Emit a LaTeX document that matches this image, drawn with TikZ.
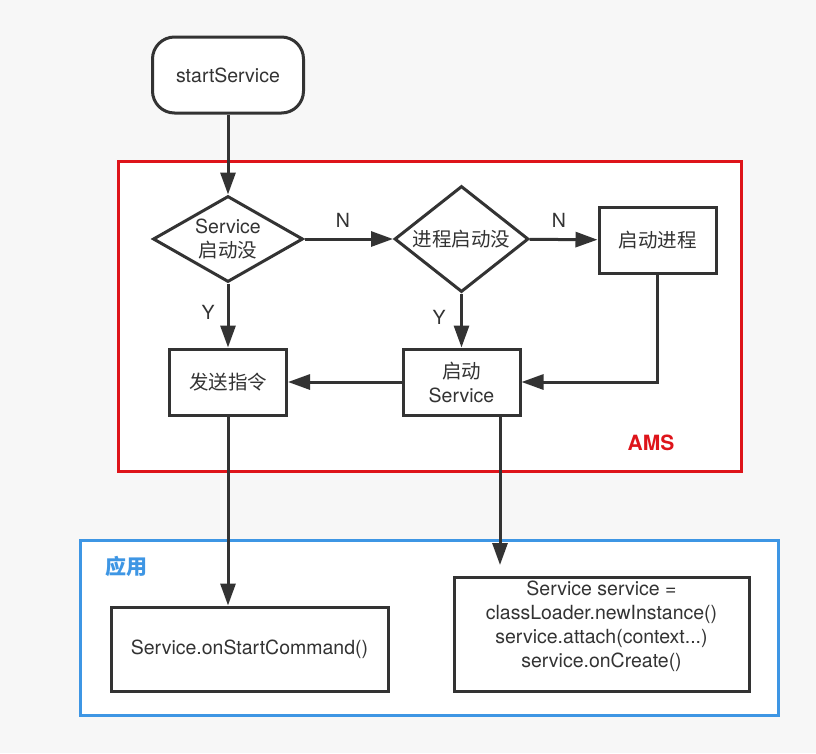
\documentclass[tikz,border=0pt]{standalone}
\usepackage{fontspec}
\setmainfont{TeX Gyre Heros}
\newfontfamily\cjk{Noto Sans CJK SC}
\usetikzlibrary{shapes.geometric, arrows.meta}
\definecolor{ink}{RGB}{51,51,51}
\definecolor{amsred}{RGB}{222,20,26}
\definecolor{appblue}{RGB}{62,150,228}
\definecolor{paper}{RGB}{247,247,247}

\begin{document}
\begin{tikzpicture}[x=1pt, y=-1pt, >={Triangle[length=22pt,width=15pt]},
  every node/.style={font=\fontsize{19.5}{24}\selectfont, text=ink, align=center},
  frame/.style={draw, line width=3pt, fill=white, inner sep=0pt},
  box/.style={draw=ink, line width=3pt, fill=white, inner sep=0pt, minimum width=117pt, minimum height=66pt},
  decide/.style={diamond, draw=ink, line width=3pt, fill=white, inner sep=0pt},
  flow/.style={draw=ink, line width=3pt, ->},
  tag/.style={font=\fontsize{21}{24}\selectfont\bfseries}]
  \def\colA{228}
  \def\colB{461.5}

  \useasboundingbox[fill=paper] (0,0) rectangle (816,753);

  % containers
  \node[frame, draw=amsred, minimum width=623pt, minimum height=310pt] (ams) at (429.5,316) {};
  \node[frame, draw=appblue, minimum width=698pt, minimum height=175pt] (app) at (429,627.5) {};
  \node[tag, text=amsred] (amslabel) at (651,443) {AMS};
  \node[tag, text=appblue] (applabel) at (126,566) {\cjk 应用};

  \node[draw=ink, line width=3pt, fill=white, rounded corners=22pt, minimum width=151pt, minimum height=76pt] (start) at (\colA,75) {startService};
  \node[decide, aspect=1.74, minimum width=150pt, minimum height=86pt] (isrun) at (\colA,239) {Service\\{\cjk 启动没}};
  \node[decide, aspect=1.26, minimum width=134pt, minimum height=106pt] (procrun) at (\colB,239) {\cjk 进程启动没};
  \node[box] (startproc) at (657.5,240) {\cjk 启动进程};
  \node[box] (startsvc) at (\colB,382) {{\cjk 启动}\\Service};
  \node[box] (send) at (\colA,382) {\cjk 发送指令};
  \node[box, minimum width=277pt, minimum height=84pt] (onstart) at (249.5,649) {Service.onStartCommand()};
  \node[box, minimum width=295pt, minimum height=114pt, text depth=20pt] (oncreate) at (601.5,634)
    {Service service =\\classLoader.newInstance()\\service.attach(context...)\\service.onCreate()};
  \coordinate (svcin) at (500,565);

  \draw[flow] (start) -- (isrun);
  \draw[flow] (isrun) -- (procrun);
  \draw[flow] (procrun) -- (startproc);
  \draw[flow] (isrun) -- (send);
  \draw[flow] (procrun) -- (startsvc);
  \draw[flow] (startproc.south) |- (startsvc.east);
  \draw[flow] (startsvc) -- (send);
  \draw[flow] (send.south) -- (send.south |- onstart.north);
  \draw[flow] (startsvc.south -| svcin) -- (svcin);

  \node (n1) at (343,220) {N};
  \node (n2) at (559,220) {N};
  \node (y1) at (208,312) {Y};
  \node (y2) at (439,317) {Y};
\end{tikzpicture}
\end{document}
